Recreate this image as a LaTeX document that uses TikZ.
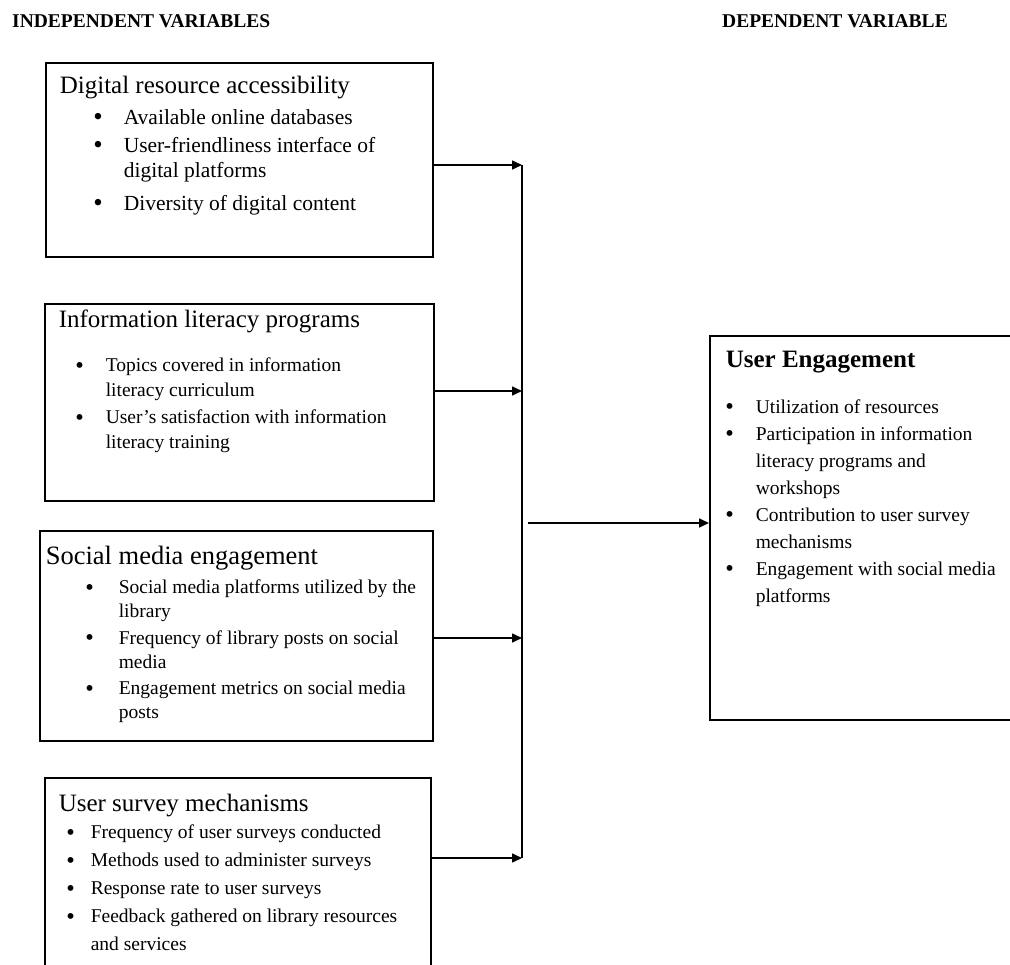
\documentclass[tikz,border=0pt]{standalone}
\usepackage{fontspec}
\setmainfont{Liberation Serif}
\usepackage{enumitem}
\usetikzlibrary{arrows.meta,positioning}
\tikzset{
  varbox/.style={draw=black, line width=1.6pt, anchor=north west, inner sep=0pt, align=left},
  ttl/.style={font=\bfseries\fontsize{19.5}{22}\selectfont, anchor=base west, inner sep=0pt},
  fl/.style={-{Triangle[length=10pt,width=9pt]}, line width=1.6pt},
  rail/.style={line width=1.6pt},
}
\newcommand{\hdr}[2][25]{{\fontsize{#1}{28}\selectfont #2}\par}
\newcommand{\hdrb}[1]{{\bfseries\fontsize{25}{28}\selectfont #1}\par}
\newcommand{\dotlbl}{\raisebox{-1.8pt}{\scalebox{1.25}{\textbullet}}}

\begin{document}
\begin{tikzpicture}[x=1pt,y=-1pt]
  \useasboundingbox (0,0) rectangle (1010,965);
  % titles
  \node[ttl] (indep) at (12,28) {INDEPENDENT VARIABLES};
  \node[ttl] (dep) at (722,28) {DEPENDENT VARIABLE};
  % independent variables
  \node[varbox] (dra) at (45,62) {\parbox[c][194pt][t]{387pt}{\fontsize{21.5}{25}\selectfont
    \vspace*{13pt}\hspace*{14pt}\hdr{Digital resource accessibility}
    \begin{itemize}[label=\dotlbl, leftmargin=78pt, labelsep=21pt, topsep=6pt, itemsep=3pt, parsep=0pt, partopsep=0pt]
      \item Available online databases
      \item User-friendliness interface of\\ digital platforms
      \par\vspace{5pt}\item Diversity of digital content
    \end{itemize}}};
  \node[varbox] (ilp) at (44,303) {\parbox[c][197pt][t]{389pt}{\fontsize{19.5}{25}\selectfont
    \vspace*{6pt}\hspace*{14pt}\hdr{Information literacy programs}
    \begin{itemize}[label=\dotlbl, leftmargin=61pt, labelsep=22pt, topsep=19pt, itemsep=2pt, parsep=0pt, partopsep=0pt]
      \item Topics covered in information\\ literacy curriculum
      \item User's satisfaction with information\\ literacy training
    \end{itemize}}};
  \node[varbox] (sme) at (39,530) {\parbox[c][210pt][t]{393pt}{\fontsize{19.5}{24.3}\selectfont
    \vspace*{15pt}\hspace*{6pt}\hdr[26.5]{Social media engagement}
    \begin{itemize}[label=\dotlbl, leftmargin=79pt, labelsep=25pt, topsep=5pt, itemsep=2pt, parsep=0pt, partopsep=0pt]
      \item Social media platforms utilized by the\\ library
      \item Frequency of library posts on social\\ media
      \item Engagement metrics on social media\\ posts
    \end{itemize}}};
  \node[varbox] (usm) at (44,777) {\parbox[c][210pt][t]{386pt}{\fontsize{19.5}{27.5}\selectfont
    \vspace*{16pt}\hspace*{14pt}\hdr{User survey mechanisms}
    \begin{itemize}[label=\dotlbl, leftmargin=46pt, labelsep=16pt, topsep=0pt, itemsep=0.5pt, parsep=0pt, partopsep=0pt]
      \item Frequency of user surveys conducted
      \item Methods used to administer surveys
      \item Response rate to user surveys
      \item Feedback gathered on library resources\\ and services
    \end{itemize}}};
  % dependent variable
  \node[varbox] (ue) at (709,335) {\parbox[c][384pt][t]{320pt}{\fontsize{19.5}{27}\selectfont
    \vspace*{15pt}\hspace*{16pt}\hdrb{User Engagement}
    \begin{itemize}[label=\dotlbl, leftmargin=46pt, labelsep=22pt, topsep=19pt, itemsep=0pt, parsep=0pt, partopsep=0pt]
      \item Utilization of resources
      \item Participation in information\\ literacy programs and\\ workshops
      \item Contribution to user survey\\ mechanisms
      \item Engagement with social media\\ platforms
    \end{itemize}}};
  % connectors
  \coordinate (j1) at (522,165);
  \coordinate (j2) at (522,391);
  \coordinate (j3) at (522,638);
  \coordinate (j4) at (522,858);
  \coordinate (jm) at (528,523);
  \draw[rail] (j1) -- (j4);
  \draw[fl] (dra.east |- j1) -- (j1);
  \draw[fl] (ilp.east |- j2) -- (j2);
  \draw[fl] (sme.east |- j3) -- (j3);
  \draw[fl] (usm.east |- j4) -- (j4);
  \draw[fl] (jm) -- (ue.west |- jm);
\end{tikzpicture}
\end{document}
